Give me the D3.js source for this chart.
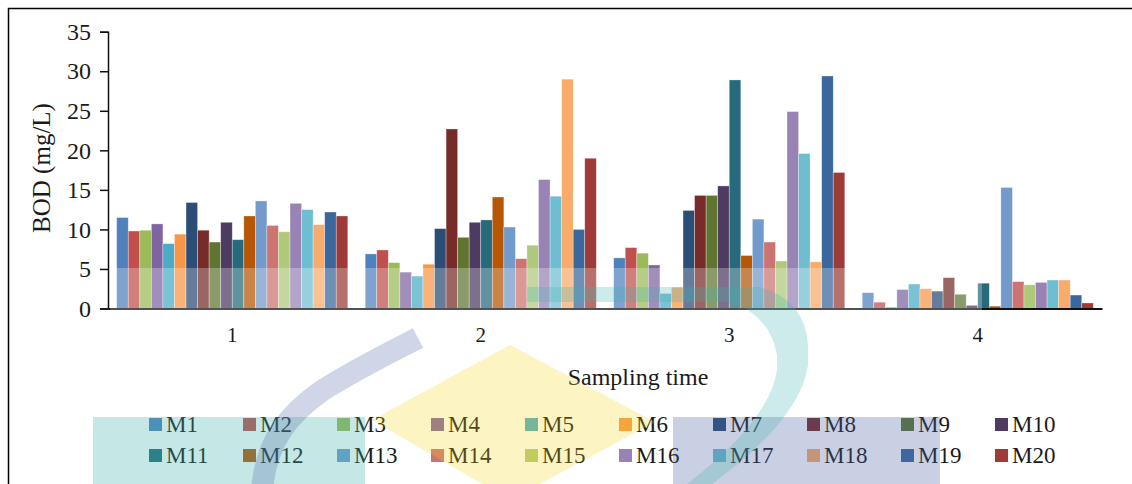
<!DOCTYPE html>
<html>
<head>
<meta charset="utf-8">
<script src="https://cdn.jsdelivr.net/npm/d3@7"></script>
<style>
  html, body { margin: 0; padding: 0; background: #fff; }
  svg { display: block; }
  text { font-family: "Liberation Serif", "Times New Roman", serif; fill: #1a1a1a; }
</style>
</head>
<body>
<svg id="chart" width="1132" height="484"></svg>
<script>
// Sampling campaigns (x categories)
const samplingTimes = ["1", "2", "3", "4"];

// Monitoring stations
const stations = ["M1","M2","M3","M4","M5","M6","M7","M8","M9","M10",
                  "M11","M12","M13","M14","M15","M16","M17","M18","M19","M20"];

// BOD (mg/L) per station, one value per sampling time
const bodTime1 = [11.5, 9.8, 9.9, 10.7, 8.2, 9.4, 13.4, 9.9, 8.4, 10.9,
                  8.7, 11.7, 13.6, 10.5, 9.7, 13.3, 12.5, 10.6, 12.2, 11.7];
const bodTime2 = [6.9, 7.4, 5.8, 4.6, 4.1, 5.6, 10.1, 22.7, 9.0, 10.9,
                  11.2, 14.1, 10.3, 6.3, 8.0, 16.3, 14.2, 29.0, 10.0, 19.0];
const bodTime3 = [6.4, 7.7, 7.0, 5.5, 1.9, 2.7, 12.4, 14.3, 14.3, 15.5,
                  28.9, 6.7, 11.3, 8.4, 6.0, 24.9, 19.6, 5.9, 29.4, 17.2];
const bodTime4 = [2.0, 0.8, 0.2, 2.4, 3.1, 2.5, 2.2, 3.9, 1.8, 0.4,
                  3.2, 0.3, 15.3, 3.4, 3.0, 3.3, 3.6, 3.6, 1.7, 0.7];

// Y axis ticks
const yTicks = [0, 5, 10, 15, 20, 25, 30, 35];

// Station colours
const stationColors = ["#4F81BD","#C0504D","#9BBB59","#8064A2","#4BACC6","#F79646",
                       "#2C4D75","#772C2A","#5F7530","#4D3B62","#276A7C","#B65708",
                       "#729ACA","#CD7371","#AFC97A","#9983B5","#6FBDD1","#F9AB6B",
                       "#3A679C","#9E3B38"];

const bodBySampling = [bodTime1, bodTime2, bodTime3, bodTime4];

const svg = d3.select("#chart");
const W = 1132, H = 484;
const plot = { left: 108, right: 1102, top: 31.7, bottom: 308.5 };

const x0 = d3.scaleBand().domain(samplingTimes)
  .range([plot.left, plot.right]).paddingInner(0.07).paddingOuter(0.035);
const x1 = d3.scaleBand().domain(stations).range([0, x0.bandwidth()]).padding(0);
const y = d3.scaleLinear().domain([0, 35]).range([plot.bottom, plot.top]);
const color = d3.scaleOrdinal().domain(stations).range(stationColors);

// Outer frame (top and left edges)
svg.append("path")
  .attr("d", `M8.5,${H} L8.5,8.5 L${W},8.5`)
  .attr("fill", "none").attr("stroke", "#000").attr("stroke-width", 1.5);

// Bars
const groups = svg.append("g").selectAll("g")
  .data(samplingTimes.map((t, i) => ({ t, values: bodBySampling[i] })))
  .join("g")
  .attr("transform", d => `translate(${x0(d.t)},0)`);

groups.selectAll("rect")
  .data(d => d.values.map((v, j) => ({ station: stations[j], v })))
  .join("rect")
  .attr("x", d => x1(d.station))
  .attr("y", d => y(d.v))
  .attr("width", x1.bandwidth())
  .attr("height", d => y(0) - y(d.v))
  .attr("fill", d => color(d.station))
  .attr("stroke", "rgba(255,255,255,0.45)")
  .attr("stroke-width", 0.7);

// Y axis
const yAxis = svg.append("g")
  .attr("transform", `translate(${plot.left},0)`)
  .call(d3.axisLeft(y).tickValues(yTicks).tickSize(8).tickSizeOuter(8).tickPadding(9));
yAxis.select(".domain").attr("stroke", "#111").attr("stroke-width", 1.5);
yAxis.selectAll(".tick line").attr("stroke", "#111").attr("stroke-width", 1.5);
yAxis.selectAll(".tick text")
  .style("font-family", '"Liberation Serif", serif')
  .style("font-size", "24px").attr("fill", "#1a1a1a");

// X axis baseline and category labels
const xAxis = svg.append("g")
  .attr("transform", `translate(0,${plot.bottom})`)
  .call(d3.axisBottom(x0).tickSize(0).tickSizeOuter(0).tickPadding(19));
xAxis.select(".domain").attr("stroke", "#111").attr("stroke-width", 2);
xAxis.selectAll(".tick text")
  .style("font-family", '"Liberation Serif", serif')
  .style("font-size", "21px").attr("fill", "#1a1a1a");

// Axis titles
svg.append("text")
  .attr("transform", `translate(50,168) rotate(-90)`)
  .attr("text-anchor", "middle")
  .style("font-size", "25px")
  .text("BOD (mg/L)");

svg.append("text")
  .attr("x", 638).attr("y", 385)
  .attr("text-anchor", "middle")
  .style("font-size", "24px")
  .text("Sampling time");

// Legend: two rows of ten
const legendCol = d3.scalePoint().domain(d3.range(10)).range([149, 995]);
const legendRow = d3.scalePoint().domain([0, 1]).range([418, 449]);
const legend = svg.append("g").selectAll("g")
  .data(stations)
  .join("g")
  .attr("transform", (d, i) => `translate(${legendCol(i % 10)},${legendRow(Math.floor(i / 10))})`);
legend.append("rect")
  .attr("width", 13).attr("height", 13)
  .attr("fill", d => color(d));
legend.append("text")
  .attr("x", 17).attr("y", 14)
  .style("font-size", "23px")
  .text(d => d);

// Faint emblem printed over the figure
const mark = svg.append("g").attr("pointer-events", "none");
mark.append("rect")
  .attr("x", 110).attr("y", 268).attr("width", 872).attr("height", 42)
  .attr("fill", "#fff").attr("opacity", 0.27);
mark.append("rect")
  .attr("x", 93).attr("y", 417).attr("width", 272).attr("height", 67)
  .attr("fill", "#3EB2AC").attr("opacity", 0.3);
mark.append("rect")
  .attr("x", 673).attr("y", 417).attr("width", 267).attr("height", 67)
  .attr("fill", "#4B62A2").attr("opacity", 0.3);
mark.append("path")
  .attr("d", "M510,345 L655,422 L510,500 L372,420 Z")
  .attr("fill", "#F7D315").attr("opacity", 0.25);
mark.append("path")
  .attr("d", "M527,287 L760,287 Q805,300 808,345 L808,365 Q800,420 712,484 L687,484 Q770,420 777,370 L777,355 Q770,315 730,302 L527,302 Z")
  .attr("fill", "#3EB2AC").attr("opacity", 0.26);
mark.append("path")
  .attr("d", "M418,338 C395,350 360,367 323,390 C290,413 266,440 262,490")
  .attr("fill", "none").attr("stroke", "#4B62A2").attr("stroke-width", 22)
  .attr("opacity", 0.26);
</script>
</body>
</html>
